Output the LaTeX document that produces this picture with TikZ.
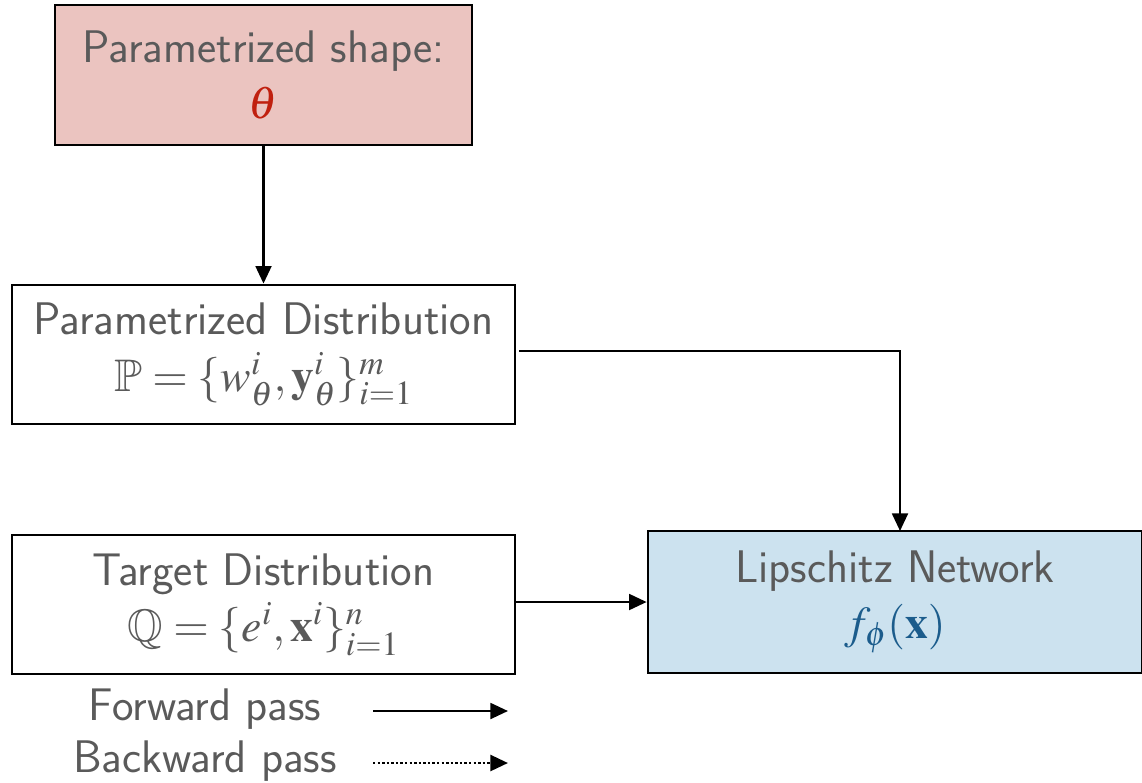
\documentclass[tikz,border=0pt]{standalone}
\usepackage{amssymb}
\usepackage{mathptmx}
\usetikzlibrary{arrows.meta}
\definecolor{txtgrey}{HTML}{5A5A5A}
\definecolor{thetared}{HTML}{C0200F}
\definecolor{netblue}{HTML}{1B5C8C}
\definecolor{shapefill}{HTML}{EBC4C0}
\definecolor{netfill}{HTML}{CCE2EF}
\tikzset{
  block/.style={draw=black, line width=1.6pt, rectangle, align=center,
    text=txtgrey, font=\sffamily\fontsize{26}{32}\selectfont, inner sep=0pt},
  flow/.style={line width=1.4pt, -{Triangle[length=10pt,width=9pt]}},
  backflow/.style={flow, line width=1.6pt, dash pattern=on 1.4pt off 1.2pt},
  legend/.style={text=txtgrey, font=\sffamily\fontsize{26}{30}\selectfont, inner sep=0pt}
}
\begin{document}
\begin{tikzpicture}[x=0.02cm, y=-0.02cm]
  \useasboundingbox (0,0) rectangle (1142,782);

  % boxes
  \node[block, fill=shapefill, minimum width=8.34cm, minimum height=2.8cm] (shape) at (263.5,75)
    {Parametrized shape:\\ {\color{thetared}$\theta$}};
  \node[block, minimum width=10.06cm, minimum height=2.78cm] (pdist) at (263.5,354.5)
    {Parametrized Distribution\\ $\mathbb{P}=\{w^{i}_{\theta},\mathbf{y}^{i}_{\theta}\}_{i=1}^{m}$};
  \node[block, minimum width=10.06cm, minimum height=2.78cm] (qdist) at (263.5,604.5)
    {Target Distribution\\ $\mathbb{Q}=\{e^{i},\mathbf{x}^{i}\}_{i=1}^{n}$};
  \node[block, fill=netfill, minimum width=9.88cm, minimum height=2.84cm] (net) at (895,602)
    {Lipschitz Network\\ {\color{netblue}$f_{\phi}(\mathbf{x})$}};

  % connectors
  \draw[flow] (shape.south) -- (pdist.north);
  \coordinate (pout) at (519,351);
  \coordinate (nin) at (900,531);
  \draw[flow] (pout) -| (nin);
  \draw[flow] (qdist.east |- 0,602) -- (net.west |- 0,602);

  % legend
  \node[legend] (fwd) at (205,709) {Forward pass};
  \node[legend] (bwd) at (205,761) {Backward pass};
  \coordinate (fwdA) at (373,711);
  \coordinate (fwdB) at (508,711);
  \coordinate (bwdA) at (373,763);
  \coordinate (bwdB) at (508,763);
  \draw[flow] (fwdA) -- (fwdB);
  \draw[backflow] (bwdA) -- (bwdB);
\end{tikzpicture}
\end{document}
